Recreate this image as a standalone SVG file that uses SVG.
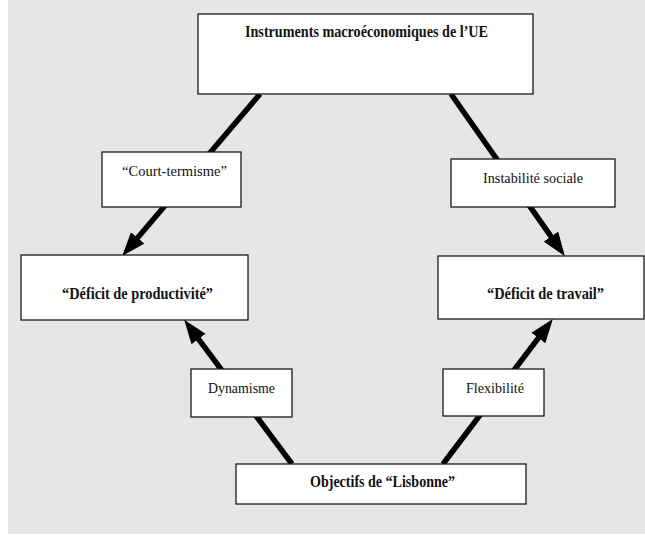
<svg xmlns="http://www.w3.org/2000/svg" width="645" height="535" viewBox="0 0 645 535">
<style>
.box{fill:#ffffff;stroke:#1a1a1a;stroke-width:1.3}
.t{font-family:"Liberation Serif","Times New Roman",serif;font-size:15px;fill:#111;text-anchor:middle}
.b{font-weight:bold;font-size:16px}
.c{stroke:#000;stroke-width:5.5;fill:none;marker-end:url(#ah)}
</style>
<defs>
<marker id="ah" markerUnits="userSpaceOnUse" markerWidth="24" markerHeight="18" viewBox="0 0 22 16" refX="6" refY="8" orient="auto">
<path d="M0,0 L22,8 L0,16 z" fill="#000"/>
</marker>
</defs>
<rect x="8" y="0" width="637" height="534" fill="#e5e6e8"/>
<g id="connectors">
<line class="c" x1="260" y1="94" x2="133.4" y2="242.8"/>
<line class="c" x1="451" y1="94" x2="554.8" y2="241.9"/>
<line class="c" x1="292" y1="464" x2="194.6" y2="333.8"/>
<line class="c" x1="443" y1="464" x2="542.3" y2="332.8"/>
</g>
<g id="instruments">
<rect class="box" x="198" y="14" width="335" height="80"/>
<text class="t b" x="366.5" y="37" textLength="243" lengthAdjust="spacingAndGlyphs">Instruments macroéconomiques de l’UE</text>
</g>
<g id="court-termisme">
<rect class="box" x="102" y="152" width="139" height="55"/>
<text class="t" x="174.5" y="176" textLength="105" lengthAdjust="spacingAndGlyphs">“Court-termisme”</text>
</g>
<g id="instabilite">
<rect class="box" x="451" y="159" width="164" height="48"/>
<text class="t" x="533" y="183" textLength="100" lengthAdjust="spacingAndGlyphs">Instabilité sociale</text>
</g>
<g id="deficit-productivite">
<rect class="box" x="21" y="255" width="227" height="65"/>
<text class="t b" x="137.5" y="299" textLength="151" lengthAdjust="spacingAndGlyphs">“Déficit de productivité”</text>
</g>
<g id="deficit-travail">
<rect class="box" x="438" y="256" width="206" height="63"/>
<text class="t b" x="545.5" y="299" textLength="117" lengthAdjust="spacingAndGlyphs">“Déficit de travail”</text>
</g>
<g id="dynamisme">
<rect class="box" x="191" y="369" width="101" height="48"/>
<text class="t" x="241.5" y="393" textLength="67" lengthAdjust="spacingAndGlyphs">Dynamisme</text>
</g>
<g id="flexibilite">
<rect class="box" x="443" y="369" width="101" height="47"/>
<text class="t" x="495" y="393" textLength="58" lengthAdjust="spacingAndGlyphs">Flexibilité</text>
</g>
<g id="lisbonne">
<rect class="box" x="236" y="464" width="290" height="40"/>
<text class="t b" x="382.5" y="487" textLength="145" lengthAdjust="spacingAndGlyphs">Objectifs de “Lisbonne”</text>
</g>
</svg>
